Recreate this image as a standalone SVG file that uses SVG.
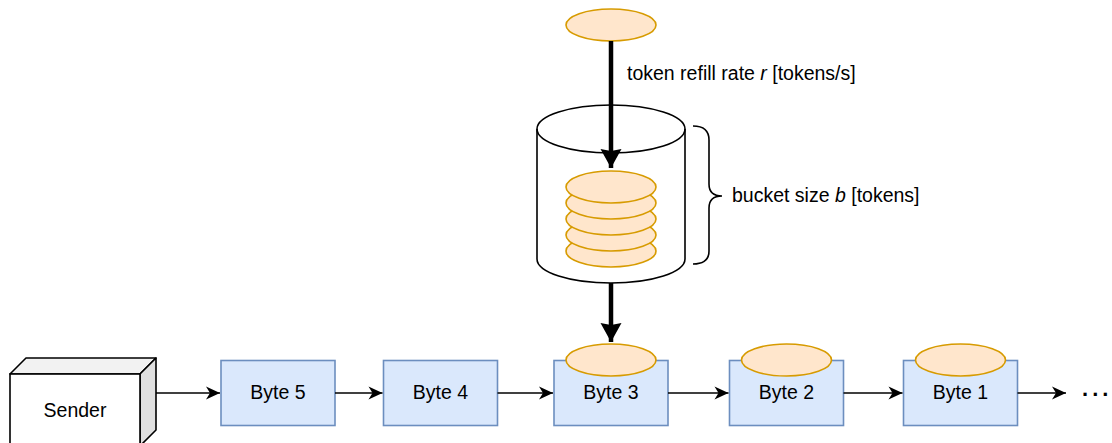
<svg xmlns="http://www.w3.org/2000/svg" width="1112" height="443" viewBox="0 0 1112 443">
  <style>
    .lbl { font-family: "Liberation Sans", Arial, sans-serif; font-size: 19.5px; fill: #000; }
    .mid { text-anchor: middle; }
    .token { fill: #ffe6cc; stroke: #d79b00; stroke-width: 1.6; }
    .byte { fill: #dae8fc; stroke: #6c8ebf; stroke-width: 1.6; }
    .edge { fill: none; stroke: #000; stroke-width: 1.6; }
    .thick { fill: none; stroke: #000; stroke-width: 4.5; }
    .outline { fill: #fff; stroke: #000; stroke-width: 1.6; }
  </style>
  <defs>
    <marker id="arrow" markerUnits="userSpaceOnUse" markerWidth="16" markerHeight="16" viewBox="-15 -8 16 16" refX="0" refY="0" orient="auto">
      <path d="M0,0 L-14,-6.5 L-10,0 L-14,6.5 Z" fill="#000"/>
    </marker>
    <marker id="bigArrow" markerUnits="userSpaceOnUse" markerWidth="24" markerHeight="24" viewBox="-21 -12 22 24" refX="0" refY="0" orient="auto">
      <path d="M0,0 L-19,-10.5 L-17,0 L-19,10.5 Z" fill="#000"/>
    </marker>
  </defs>

  <!-- token source -->
  <g id="token-source">
    <ellipse class="token" cx="611" cy="25" rx="45" ry="16"/>
  </g>

  <!-- bucket cylinder -->
  <g id="bucket">
    <path class="outline" d="M537,129 L537,259 A74,24 0 0 0 685,259 L685,129 A74,24 0 0 0 537,129 Z"/>
    <path class="edge" d="M537,129 A74,24 0 0 0 685,129"/>
  </g>

  <!-- tokens stored in the bucket -->
  <g id="token-stack">
    <ellipse class="token" cx="611" cy="251" rx="45" ry="16"/>
    <ellipse class="token" cx="611" cy="235" rx="45" ry="16"/>
    <ellipse class="token" cx="611" cy="219" rx="45" ry="16"/>
    <ellipse class="token" cx="611" cy="203" rx="45" ry="16"/>
    <ellipse class="token" cx="611" cy="187" rx="45" ry="16"/>
  </g>

  <!-- brace marking bucket size -->
  <g id="bucket-brace">
    <path class="edge" d="M693,126 Q709,126 709,140 L709,184 Q709,196 722,196 Q709,196 709,208 L709,251 Q709,264 693,264"/>
  </g>

  <g id="refill-label">
    <text class="lbl" x="627" y="80">token refill rate <tspan font-style="italic">r</tspan> [tokens/s]</text>
  </g>
  <g id="size-label">
    <text class="lbl" x="732" y="202">bucket size <tspan font-style="italic">b</tspan> [tokens]</text>
  </g>

  <!-- sender cube -->
  <g id="sender">
    <path d="M10,374 L26,358 L156,358 L140,374 Z" fill="#f2f2f2" stroke="#000" stroke-width="1.6" stroke-linejoin="round"/>
    <path d="M140,374 L156,358 L156,430 L140,446 Z" fill="#e0e0e0" stroke="#000" stroke-width="1.6" stroke-linejoin="round"/>
    <rect x="10" y="374" width="130" height="74" fill="#fff" stroke="#000" stroke-width="1.6"/>
    <text class="lbl mid" x="75" y="417">Sender</text>
  </g>

  <!-- bytes -->
  <g id="byte5">
    <rect class="byte" x="221" y="360.5" width="114" height="65"/>
    <text class="lbl mid" x="278" y="399">Byte 5</text>
  </g>
  <g id="byte4">
    <rect class="byte" x="383.5" y="360.5" width="114" height="65"/>
    <text class="lbl mid" x="440.5" y="399">Byte 4</text>
  </g>
  <g id="byte3">
    <rect class="byte" x="554" y="360.5" width="114" height="65"/>
    <ellipse class="token" cx="611" cy="360" rx="45" ry="16"/>
    <text class="lbl mid" x="611" y="399">Byte 3</text>
  </g>
  <g id="byte2">
    <rect class="byte" x="729.5" y="360.5" width="114" height="65"/>
    <ellipse class="token" cx="786.5" cy="360" rx="45" ry="16"/>
    <text class="lbl mid" x="786.5" y="399">Byte 2</text>
  </g>
  <g id="byte1">
    <rect class="byte" x="903.5" y="360.5" width="114" height="65"/>
    <ellipse class="token" cx="960.5" cy="360" rx="45" ry="16"/>
    <text class="lbl mid" x="960.5" y="399">Byte 1</text>
  </g>

  <g id="more">
    <text x="1082" y="396" dx="0 4 4" font-family="Liberation Sans, Arial, sans-serif" font-size="22" font-weight="bold">...</text>
  </g>

  <!-- connectors -->
  <g id="connectors">
    <path class="thick" d="M611,41 L611,168" marker-end="url(#bigArrow)"/>
    <path class="thick" d="M611,283 L611,342" marker-end="url(#bigArrow)"/>
    <path class="edge" d="M156,393 L220,393" marker-end="url(#arrow)"/>
    <path class="edge" d="M335,393 L382.5,393" marker-end="url(#arrow)"/>
    <path class="edge" d="M497.5,393 L553,393" marker-end="url(#arrow)"/>
    <path class="edge" d="M668,393 L728.5,393" marker-end="url(#arrow)"/>
    <path class="edge" d="M843.5,393 L902.5,393" marker-end="url(#arrow)"/>
    <path class="edge" d="M1017.5,393 L1066,393" marker-end="url(#arrow)"/>
  </g>
</svg>
